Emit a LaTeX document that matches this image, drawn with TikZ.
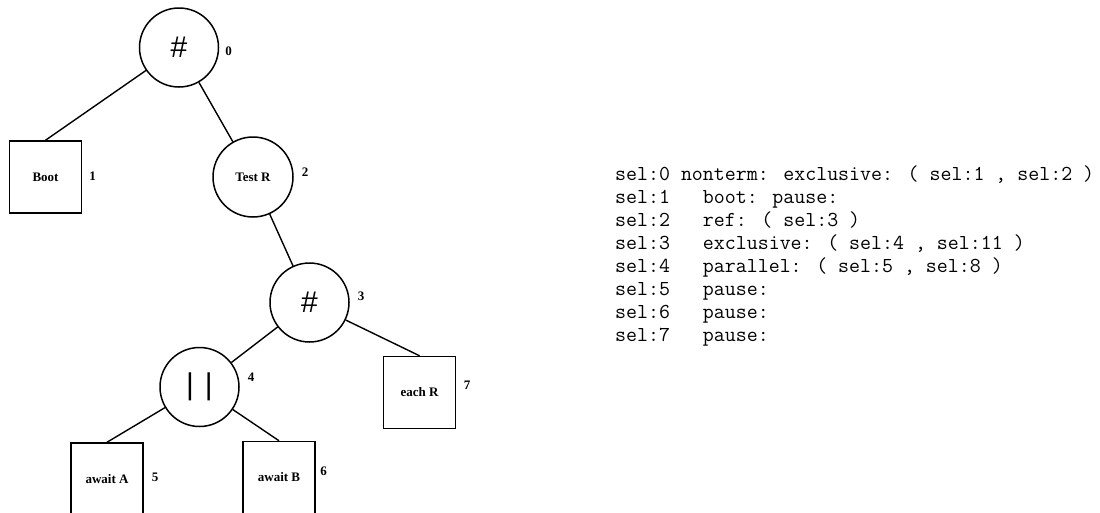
\documentclass[tikz,border=0pt]{standalone}
\usepackage{fontspec}
\setmainfont{Liberation Serif}
\newfontfamily\opfont{Liberation Sans}
\usepackage{tikz}
\usetikzlibrary{positioning}
\tikzstyle{edge} = [line width=1.4pt]
\tikzstyle{opCirc} = [circle, minimum size=79pt, inner sep=0pt, draw=black, line width=1.5pt, font=\opfont\fontsize{30}{30}\selectfont]
\tikzstyle{nameCirc} = [circle, minimum size=80pt, inner sep=0pt, draw=black, line width=1.5pt, font=\bfseries\fontsize{13}{15}\selectfont]
\tikzstyle{leafRec} = [rectangle, minimum size=72pt, inner sep=0pt, draw=black, line width=1.5pt, font=\bfseries\fontsize{13}{15}\selectfont]
\tikzstyle{num} = [inner sep=0pt, font=\bfseries\fontsize{13}{15}\selectfont]
\tikzstyle{selText} = [inner sep=0pt, align=left, font=\ttfamily\fontsize{21.3}{23}\selectfont]

\begin{document}
\begin{tikzpicture}[x=1pt, y=-1pt]
		\useasboundingbox (0,0) rectangle (1100,512);
		% tree
		\node (n0) [opCirc] at (179,47.5) {\#};
		\node (boot) [leafRec] at (45.5,177) {Boot};
		\node (testR) [nameCirc] at (253,177) {Test R};
		\node (n3) [opCirc] at (309.5,302.5) {\#};
		\node (n4) [opCirc] at (199.5,387) {|\hskip 11pt|};
		\node (eachR) [leafRec] at (419.5,392.5) {each R};
		\node (awaitA) [leafRec] at (107,479) {await A};
		\node (awaitB) [leafRec] at (279,477.5) {await B};
		% numbers
		\node (l0) [num, right=6pt of n0, yshift=-4pt] {0};
		\node (l1) [num, right=7pt of boot, yshift=1pt] {1};
		\node (l2) [num, right=8pt of testR, yshift=5pt] {2};
		\node (l3) [num, right=8pt of n3, yshift=6.5pt] {3};
		\node (l4) [num, right=8pt of n4, yshift=10pt] {4};
		\node (l5) [num, right=8pt of awaitA, yshift=2pt] {5};
		\node (l6) [num, right=4.5pt of awaitB, yshift=6.5pt] {6};
		\node (l7) [num, right=7.5pt of eachR, yshift=7pt] {7};
		\draw [edge] (n0) -- (boot.north);
		\draw [edge] (n0) -- (testR);
		\draw [edge] (testR) -- (n3);
		\draw [edge] (n3) -- (n4);
		\draw [edge] (n3) -- (eachR.north);
		\draw [edge] (n4) -- (awaitA.north);
		\draw [edge] (n4) -- (awaitB.north);
		% selections
		\node (sels) [selText, anchor=west] at (615,256) {sel:0 nonterm: exclusive: ( sel:1 , sel:2 )\\
			sel:1\ \ \ boot: pause:\\
			sel:2\ \ \ ref: ( sel:3 )\\
			sel:3\ \ \ exclusive: ( sel:4 , sel:11 )\\
			sel:4\ \ \ parallel: ( sel:5 , sel:8 )\\
			sel:5\ \ \ pause:\\
			sel:6\ \ \ pause:\\
			sel:7\ \ \ pause:};
	\end{tikzpicture}
\end{document}
